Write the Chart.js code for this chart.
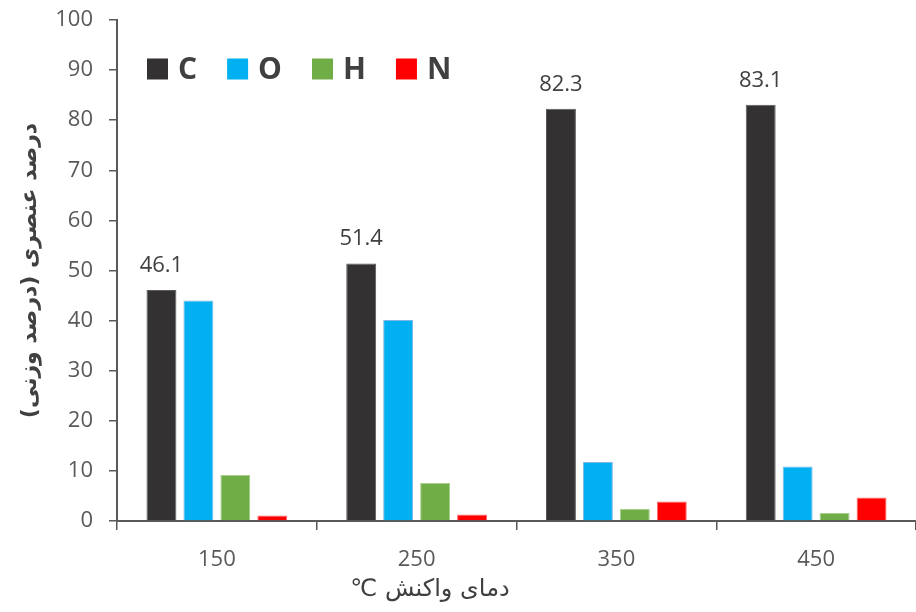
<!DOCTYPE html>
<html>
<head>
<meta charset="utf-8">
<script src="https://cdn.jsdelivr.net/npm/chart.js@4"></script>
<style>
html, body { margin: 0; padding: 0; background: #fff; }
</style>
</head>
<body>
<canvas id="chart" width="916" height="612"></canvas>
<script>
// Chart data
var temps = ['150', '250', '350', '450'];
var carbon = [46.1, 51.4, 82.3, 83.1];
var oxygen = [44.0, 40.1, 11.8, 10.9];
var hydrogen = [9.2, 7.6, 2.4, 1.6];
var nitrogen = [1.1, 1.3, 3.9, 4.7];
var elements = ['C', 'O', 'H', 'N'];
var colors = ['#333132', '#00B0F0', '#70AD47', '#FF0000'];
var edges = ['#5a5a5a', '#7fb6e6', '#a9cf8f', '#ff6b6b'];
var yTitle = '\u200Fدرصد عنصری (درصد وزنی)\u200F';
var xTitle = '\u200Fدمای واکنش ℃\u200F';

var tickFont = { family: 'Open Sans', size: 22 };
var textColor = '#595959';

// value labels above the C bars
var barLabels = {
    id: 'barLabels',
    afterDatasetsDraw: function (chart) {
        var ctx = chart.ctx;
        var meta = chart.getDatasetMeta(0);
        ctx.save();
        ctx.font = '22px "Open Sans"';
        ctx.fillStyle = '#404040';
        ctx.textAlign = 'center';
        ctx.textBaseline = 'alphabetic';
        meta.data.forEach(function (bar, i) {
            ctx.fillText(carbon[i].toFixed(1), bar.x, bar.y - 18);
        });
        ctx.restore();
    }
};

// legend inside the plot, top left
var insideLegend = {
    id: 'insideLegend',
    afterDraw: function (chart) {
        var ctx = chart.ctx;
        var x = 147, y = 69;
        ctx.save();
        ctx.font = 'bold 30px "Open Sans"';
        ctx.textBaseline = 'middle';
        ctx.textAlign = 'left';
        chart.data.datasets.forEach(function (ds) {
            ctx.fillStyle = ds.backgroundColor;
            ctx.fillRect(x, y - 10.5, 21, 21);
            ctx.fillStyle = '#404040';
            ctx.fillText(ds.label, x + 31, y + 1);
            x += 31 + ctx.measureText(ds.label).width + 30;
        });
        ctx.restore();
    }
};

// x axis title, placed as in the original
var bottomTitle = {
    id: 'bottomTitle',
    afterDraw: function (chart) {
        var ctx = chart.ctx;
        ctx.save();
        ctx.font = '24px "DejaVu Sans"';
        ctx.fillStyle = '#404040';
        ctx.textAlign = 'center';
        ctx.textBaseline = 'middle';
        ctx.fillText(xTitle, 430, 590);
        ctx.restore();
    }
};

var series = [carbon, oxygen, hydrogen, nitrogen];
var datasets = series.map(function (vals, i) {
    return {
        label: elements[i],
        data: vals,
        backgroundColor: colors[i],
        borderColor: edges[i],
        borderWidth: 1,
        categoryPercentage: 0.74,
        barPercentage: 0.81
    };
});

var ctx = document.getElementById('chart').getContext('2d');
new Chart(ctx, {
    type: 'bar',
    data: {
        labels: temps,
        datasets: datasets
    },
    plugins: [barLabels, insideLegend, bottomTitle],
    options: {
        responsive: false,
        animation: false,
        layout: {
            padding: { top: 20, right: 0, bottom: 0, left: 0 }
        },
        plugins: {
            legend: { display: false },
            tooltip: { enabled: false }
        },
        scales: {
            x: {
                grid: {
                    drawOnChartArea: false,
                    tickLength: 9,
                    color: '#595959',
                    lineWidth: 1.5
                },
                border: { color: '#595959', width: 2 },
                ticks: { font: tickFont, color: textColor, padding: 17 },
                afterFit: function (scale) { scale.height = 91; }
            },
            y: {
                min: 0,
                max: 100,
                ticks: { stepSize: 10, font: tickFont, color: textColor, padding: 16 },
                grid: {
                    drawOnChartArea: false,
                    tickLength: 8,
                    color: '#595959',
                    lineWidth: 1.5
                },
                border: { color: '#595959', width: 2 },
                title: {
                    display: true,
                    text: yTitle,
                    color: '#404040',
                    font: { family: 'DejaVu Sans', size: 22, weight: 'bold' },
                    padding: { top: 17, bottom: 0 }
                },
                afterFit: function (scale) {
                    scale.width = 117;
                    scale.paddingTop = 0;
                    scale.paddingBottom = 0;
                }
            }
        }
    }
});
</script>
</body>
</html>
